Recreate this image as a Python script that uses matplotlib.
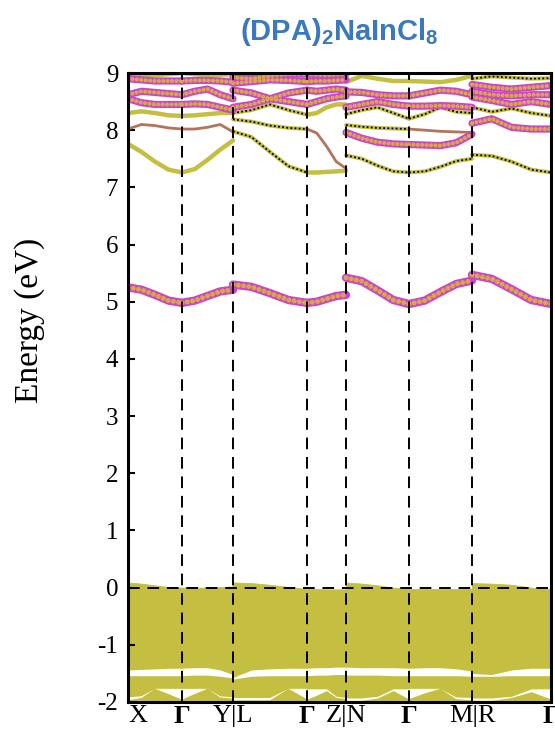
import numpy as np
import matplotlib
matplotlib.use('Agg')
import matplotlib.pyplot as plt

plt.rcParams['axes.unicode_minus'] = False
plt.rcParams['mathtext.fontset'] = 'custom'
plt.rcParams['mathtext.bf'] = 'Liberation Sans:bold'
plt.rcParams['mathtext.rm'] = 'Liberation Sans:bold'

# ---------------- data ----------------
k_nodes = [0, 54, 105, 179, 218, 281, 344, 423]
k_labels = ['X', 'Γ', 'Y|L', 'Γ', 'Z|N', 'Γ', 'M|R', 'Γ']
segments = [(0, 1), (1, 2), (2, 3), (3, 4), (4, 5), (5, 6), (6, 7)]
yticks = [-2, -1, 0, 1, 2, 3, 4, 5, 6, 7, 8, 9]

# valence band continuum (top edge) and white gaps, 5 samples per segment
vb_top = [[0.09, 0.07, 0.04, 0.01, 0.00], [0.00, 0.00, 0.00, 0.01, 0.02],
          [0.09, 0.08, 0.05, 0.01, -0.02], [-0.02, -0.02, -0.03, -0.03, -0.03],
          [0.09, 0.07, 0.04, 0.00, -0.02], [-0.02, -0.02, -0.02, -0.02, -0.02],
          [0.08, 0.07, 0.05, 0.00, -0.03]]
gap1_top = [[-1.44, -1.43, -1.42, -1.41, -1.41], [-1.41, -1.40, -1.40, -1.44, -1.52],
            [-1.57, -1.44, -1.42, -1.41, -1.41], [-1.41, -1.40, -1.40, -1.39, -1.39],
            [-1.39, -1.40, -1.40, -1.40, -1.41], [-1.41, -1.40, -1.40, -1.42, -1.46],
            [-1.50, -1.52, -1.44, -1.41, -1.41]]
gap1_bot = [[-1.54, -1.54, -1.54, -1.54, -1.54], [-1.54, -1.53, -1.53, -1.55, -1.58],
            [-1.60, -1.55, -1.54, -1.54, -1.54], [-1.54, -1.53, -1.53, -1.52, -1.52],
            [-1.53, -1.53, -1.53, -1.54, -1.54], [-1.54, -1.54, -1.54, -1.54, -1.55],
            [-1.55, -1.55, -1.54, -1.54, -1.54]]
gap2_top = [[-1.92, -1.90, -1.77, -1.77, -1.77], [-1.77, -1.77, -1.77, -1.90, -1.92],
            [-1.93, -1.93, -1.93, -1.77, -1.77], [-1.77, -1.77, -1.77, -1.90, -1.92],
            [-1.93, -1.93, -1.90, -1.77, -1.77], [-1.77, -1.77, -1.77, -1.92, -1.93],
            [-1.93, -1.93, -1.90, -1.77, -1.77]]
gap2_bot = [[-1.97, -1.93, -1.77, -1.86, -1.96], [-1.96, -1.86, -1.77, -1.92, -1.94],
            [-1.97, -1.97, -1.97, -1.77, -1.95], [-1.95, -1.88, -1.80, -1.92, -1.94],
            [-1.97, -1.97, -1.93, -1.80, -1.95], [-1.95, -1.85, -1.77, -1.95, -1.97],
            [-1.97, -1.97, -1.92, -1.82, -1.95]]

# conduction bands
cb_5 = [[5.25, 5.21, 5.12, 5.02, 4.98], [4.98, 5.02, 5.10, 5.18, 5.21],
        [5.30, 5.26, 5.15, 5.03, 4.98], [4.98, 5.00, 5.05, 5.10, 5.12],
        [5.42, 5.36, 5.20, 5.03, 4.96], [4.96, 5.02, 5.17, 5.31, 5.37],
        [5.47, 5.40, 5.22, 5.03, 4.96]]
cb_5_style = ['c', 'c', 'c', 'c', 'c', 'c', 'c']

b1 = [[7.76, 7.62, 7.45, 7.31, 7.26], [7.26, 7.32, 7.48, 7.66, 7.82],
      [7.98, 7.88, 7.62, 7.37, 7.26], [7.26, 7.26, 7.27, 7.28, 7.29],
      [7.56, 7.50, 7.38, 7.28, 7.26], [7.26, 7.28, 7.36, 7.46, 7.50],
      [7.57, 7.55, 7.45, 7.31, 7.26]]
b1_style = ['o', 'o', 'd', 'o', 'd', 'd', 'd']
b2 = [[8.02, 8.10, 8.08, 8.04, 8.02], [8.02, 8.02, 8.05, 8.10, 7.97],
      [8.19, 8.15, 8.08, 8.04, 8.02], [8.02, 7.95, 7.72, 7.45, 7.33],
      [7.96, 7.86, 7.79, 7.76, 7.75], [7.75, 7.74, 7.73, 7.78, 7.93],
      [8.12, 8.20, 8.05, 8.02, 8.02]]
b2_style = ['b', 'b', 'd', 'b', 'c', 'c', 'c']
b3 = [[8.30, 8.33, 8.30, 8.26, 8.25], [8.25, 8.26, 8.28, 8.30, 8.30],
      [8.30, 8.35, 8.45, 8.35, 8.27], [8.27, 8.30, 8.40, 8.45, 8.45],
      [8.09, 8.06, 8.04, 8.03, 8.02], [8.02, 8.00, 7.98, 7.97, 7.96],
      [8.40, 8.32, 8.38, 8.30, 8.25]]
b3_style = ['o', 'o', 'd', 'o', 'd', 'b', 'd']
b4 = [[8.55, 8.48, 8.45, 8.45, 8.45], [8.45, 8.46, 8.45, 8.40, 8.35],
      [8.40, 8.45, 8.55, 8.50, 8.45], [8.45, 8.50, 8.55, 8.58, 8.60],
      [8.28, 8.35, 8.40, 8.30, 8.20], [8.20, 8.28, 8.40, 8.32, 8.30],
      [8.58, 8.52, 8.45, 8.50, 8.45]]
b4_style = ['c', 'c', 'c', 'c', 'd', 'd', 'c']
b5 = [[8.62, 8.68, 8.66, 8.64, 8.62], [8.62, 8.68, 8.72, 8.62, 8.55],
      [8.70, 8.65, 8.55, 8.65, 8.70], [8.70, 8.68, 8.70, 8.72, 8.70],
      [8.40, 8.45, 8.50, 8.45, 8.42], [8.42, 8.42, 8.43, 8.42, 8.40],
      [8.68, 8.62, 8.60, 8.62, 8.62]]
b5_style = ['c', 'c', 'c', 'c', 'c', 'c', 'c']
b6 = [[8.90, 8.88, 8.86, 8.86, 8.86], [8.86, 8.87, 8.87, 8.86, 8.84],
      [8.82, 8.85, 8.88, 8.87, 8.85], [8.85, 8.86, 8.86, 8.87, 8.88],
      [8.67, 8.66, 8.62, 8.60, 8.60], [8.60, 8.65, 8.70, 8.68, 8.62],
      [8.80, 8.75, 8.72, 8.75, 8.78]]
b6_style = ['c', 'c', 'c', 'c', 'c', 'c', 'c']
b7 = [[8.95, 8.94, 8.96, 8.98, 9.00], [9.00, 8.98, 8.96, 8.97, 8.98],
      [8.92, 8.90, 8.95, 8.98, 8.98], [8.98, 8.97, 8.96, 8.97, 8.98],
      [8.84, 8.95, 8.90, 8.86, 8.86], [8.86, 8.85, 8.84, 8.88, 8.95],
      [8.90, 8.94, 8.92, 8.90, 8.91]]
b7_style = ['o', 'o', 'c', 'c', 'o', 'o', 'd']

# ---------------- style ----------------
OLIVE = '#c4bf40'
MAG = '#cc44cc'
ORANGE = '#d6a846'
BROWN = '#b5745a'

fig = plt.figure(figsize=(5.55, 7.35), dpi=100)
ax = fig.add_axes([128 / 555, 1 - 702 / 735, (551 - 128) / 555, (702 - 73) / 735])


def seg_x(i):
    a, b = segments[i]
    return np.linspace(k_nodes[a], k_nodes[b], 5)


for i in range(len(segments)):
    x = seg_x(i)
    ax.fill_between(x, -2.3, vb_top[i], color=OLIVE, lw=0.6, edgecolor=OLIVE, zorder=1)
    ax.fill_between(x, gap1_bot[i], gap1_top[i], color='white', lw=0, zorder=2)
    t = np.array(gap2_top[i]); bt = np.array(gap2_bot[i])
    ax.fill_between(x, bt, t, where=(t - bt) > 0.001, interpolate=True,
                    color='white', lw=0, zorder=2)


def draw(x, y, style, big=False):
    if style == 'c':
        ax.plot(x, y, color=MAG, lw=6.0 if big else 5.2, solid_capstyle='round',
                solid_joinstyle='round', zorder=5)
        ax.plot(x, y, color=ORANGE, lw=3.6 if big else 3.0, linestyle=(0, (0.01, 1.05)),
                dash_capstyle='round', zorder=6)
    elif style == 'd':
        ax.plot(x, y, color=OLIVE, lw=2.8, solid_capstyle='round', zorder=3)
        ax.plot(x, y, color='black', lw=1.3, linestyle=(0, (1, 1.3)), zorder=4)
    elif style == 'o':
        ax.plot(x, y, color=OLIVE, lw=3.2, solid_capstyle='round', zorder=3)
    else:
        ax.plot(x, y, color=BROWN, lw=2.0, solid_capstyle='round', zorder=3)


bands = [(b1, b1_style), (b2, b2_style), (b3, b3_style), (b4, b4_style),
         (b5, b5_style), (b6, b6_style), (b7, b7_style)]
for vals, styles in bands:
    for i in range(len(segments)):
        draw(seg_x(i), vals[i], styles[i])
for i in range(len(segments)):
    draw(seg_x(i), cb_5[i], cb_5_style[i], big=True)

# high-symmetry dashed lines and Fermi level
for kx in k_nodes[1:-1]:
    ax.axvline(kx, color='black', lw=1.4, linestyle=(0, (6, 4)), zorder=8)
ax.axhline(0, color='black', lw=1.4, linestyle=(0, (6, 4)), zorder=8)

ax.set_xlim(k_nodes[0], k_nodes[-1])
ax.set_ylim(-2, 9)
ax.set_yticks(yticks)
ax.set_yticklabels([str(v) for v in yticks], fontfamily='Liberation Serif', fontsize=18)
ax.tick_params(axis='y', direction='in', length=5, width=1.5, pad=7)
ax.set_xticks(k_nodes)
ax.set_xticklabels(k_labels, fontfamily='Liberation Serif', fontsize=19)
ax.tick_params(axis='x', length=0, pad=2)
for lab in ax.get_xticklabels():
    if lab.get_text() == 'Γ':
        lab.set_fontweight('bold')
ax.get_xticklabels()[0].set_horizontalalignment('left')

for sp in ax.spines.values():
    sp.set_linewidth(2.2)
    sp.set_zorder(10)

ax.set_ylabel('Energy (eV)', fontfamily='Liberation Serif', fontsize=24)
ax.yaxis.set_label_coords(-0.196, 0.606)

fig.text(339 / 555, 1 - 32 / 735, r'$\mathbf{(DPA)_2NaInCl_8}$', color='#3a78c0',
         fontsize=21, ha='center', va='center')

fig.savefig('out.png', dpi=100)
